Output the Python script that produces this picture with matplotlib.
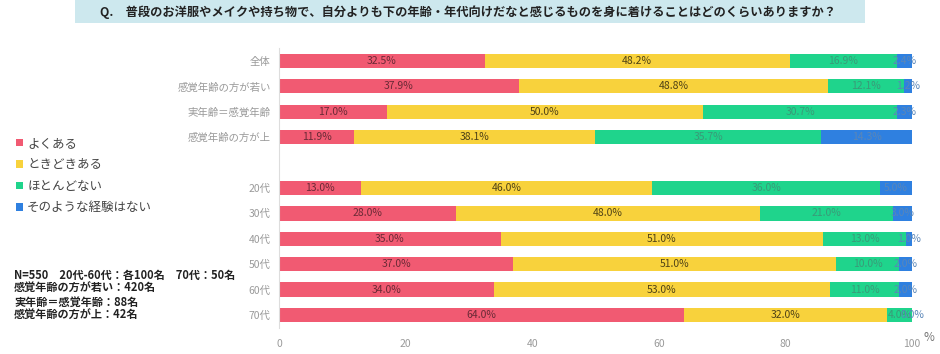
import matplotlib.pyplot as plt
from matplotlib.patches import Patch, Rectangle

plt.rcParams['font.family'] = ['Noto Sans CJK JP', 'DejaVu Sans']

categories = ["全体", "感覚年齢の方が若い", "実年齢＝感覚年齢", "感覚年齢の方が上", "",
              "20代", "30代", "40代", "50代", "60代", "70代"]
yoku = [32.5, 37.9, 17.0, 11.9, None, 13.0, 28.0, 35.0, 37.0, 34.0, 64.0]
tokidoki = [48.2, 48.8, 50.0, 38.1, None, 46.0, 48.0, 51.0, 51.0, 53.0, 32.0]
hotondo = [16.9, 12.1, 30.7, 35.7, None, 36.0, 21.0, 13.0, 10.0, 11.0, 4.0]
nai = [2.4, 1.2, 2.3, 14.3, None, 5.0, 3.0, 1.0, 2.0, 2.0, 0.0]
series_names = ["よくある", "ときどきある", "ほとんどない", "そのような経験はない"]

colors = ["#f15a72", "#f8d23c", "#1fd48c", "#2f80e0"]
label_colors = ["#6a2a36", "#4f4216", "#3a9a78", "#5a86b8"]

title = "Q.　普段のお洋服やメイクや持ち物で、自分よりも下の年齢・年代向けだなと感じるものを身に着けることはどのくらいありますか？"
note = ["N=550　20代-60代：各100名　70代：50名",
        "感覚年齢の方が若い：420名",
        "実年齢＝感覚年齢：88名",
        "感覚年齢の方が上：42名"]


def main():
    fig = plt.figure(figsize=(9.4, 3.54), dpi=100)
    ax = fig.add_axes([0.2968, 0.0743, 0.6734, 0.7893])

    series = [yoku, tokidoki, hotondo, nai]
    for i, cat in enumerate(categories):
        if series[0][i] is None:
            continue
        left = 0
        for s, vals in enumerate(series):
            v = vals[i]
            ax.barh(i, v, left=left, height=0.56, color=colors[s], linewidth=0)
            ax.text(left + v / 2, i, f"{v:.1f}%", ha="center", va="center",
                    fontsize=7.5, color=label_colors[s])
            left += v

    ax.set_xlim(0, 100)
    ax.set_ylim(10.5, -0.5)
    ax.set_yticks(range(len(categories)))
    ax.set_yticklabels(categories)
    ax.set_xticks([0, 20, 40, 60, 80, 100])
    ax.tick_params(axis="both", length=0, labelsize=7.5, colors="#9a9a9a")
    ax.tick_params(axis="y", pad=6)
    ax.tick_params(axis="x", pad=8)
    for side in ["top", "right", "bottom"]:
        ax.spines[side].set_visible(False)
    ax.spines["left"].set_color("#dddddd")
    fig.text(0.982, 0.048, "%", fontsize=8.5, color="#777777", ha="left", va="center")

    # title box
    fig.patches.append(Rectangle((0.0798, 0.935), 0.840, 0.065, transform=fig.transFigure,
                                 facecolor="#cde8ee", edgecolor="none"))
    fig.text(0.498, 0.966, title, ha="center", va="center", fontsize=8.8,
             fontweight="bold", color="#222222")

    handles = [Patch(facecolor=c, edgecolor="none") for c in colors]
    fig.legend(handles, series_names, loc="upper left", bbox_to_anchor=(0.005, 0.645),
               frameon=False, fontsize=9, handlelength=0.6, handleheight=0.6,
               handletextpad=0.3, labelspacing=0.68, labelcolor="#444444")

    fig.text(0.015, 0.165, "\n".join(note), ha="left", va="center", fontsize=8,
             fontweight="bold", color="#222222", linespacing=1.05)

    fig.savefig("out.png", dpi=100)


if __name__ == "__main__":
    main()
